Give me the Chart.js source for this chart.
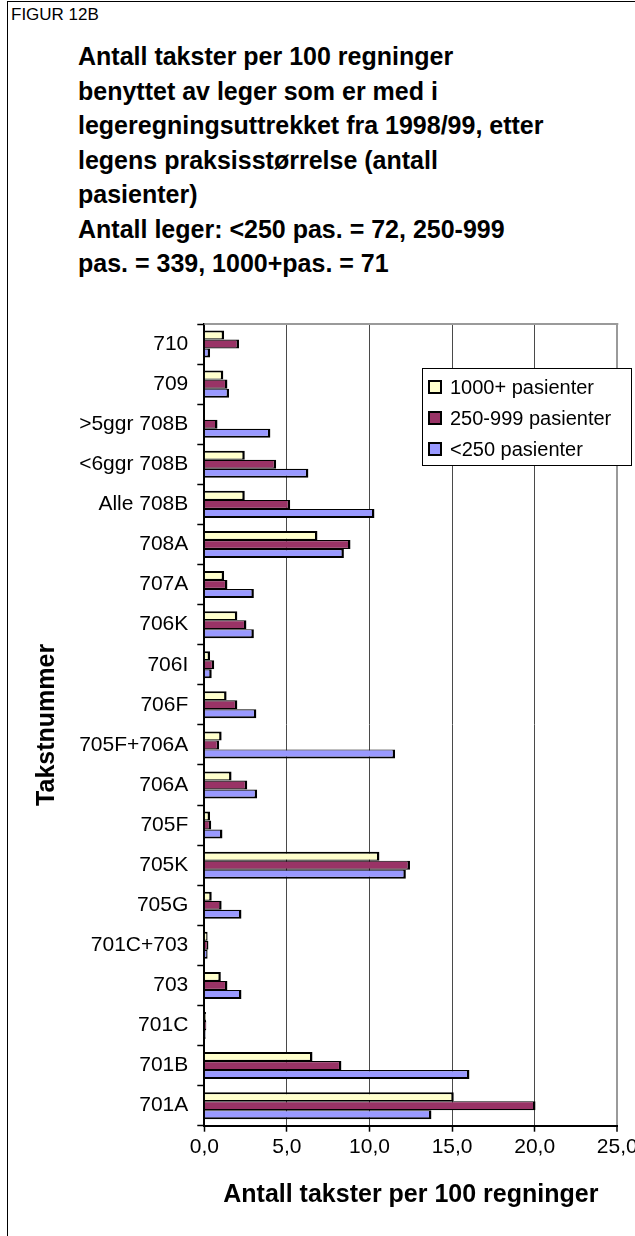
<!DOCTYPE html>
<html>
<head>
<meta charset="utf-8">
<script src="https://cdn.jsdelivr.net/npm/chart.js@4/dist/chart.umd.min.js"></script>
<style>
  html, body { margin: 0; padding: 0; background: #fff; width: 635px; height: 1236px; overflow: hidden; }
  #frame { position: absolute; left: 7px; top: 1px; width: 700px; height: 1300px;
           border-left: 1px solid #000; border-top: 1px solid #000; }
  #fig { position: absolute; left: 11px; top: 5px; font: 17px "Liberation Sans", Arial, sans-serif; color: #000; }
  #title { position: absolute; left: 78px; top: 39px; font: bold 25px/34.5px "Liberation Sans", Arial, sans-serif;
           color: #000; white-space: nowrap; }
  #chart { position: absolute; left: 0; top: 0; }
</style>
</head>
<body>
<div id="frame"></div>
<div id="fig">FIGUR 12B</div>
<div id="title">Antall takster per 100 regninger<br>benyttet av leger som er med i<br>legeregningsuttrekket fra 1998/99, etter<br>legens praksisstørrelse (antall<br>pasienter)<br>Antall leger: &lt;250 pas. = 72, 250-999<br>pas. = 339, 1000+pas. = 71</div>
<canvas id="chart" width="680" height="1236"></canvas>
<script>
// Fee codes, listed top to bottom
const categories = ['710', '709', '>5ggr 708B', '<6ggr 708B', 'Alle 708B', '708A', '707A', '706K', '706I',
  '706F', '705F+706A', '706A', '705F', '705K', '705G', '701C+703', '703', '701C', '701B', '701A'];

const seriesLabels = ['1000+ pasienter', '250-999 pasienter', '<250 pasienter'];

// Fees per 100 bills, by practice size
const practice1000plus = [1.2, 1.15, 0, 2.45, 2.45, 6.85, 1.2, 2.0, 0.35, 1.35, 1.05, 1.65, 0.35, 10.6, 0.45, 0.2, 1.0, 0.1, 6.55, 15.1];
const practice250to999 = [2.1, 1.4, 0.8, 4.35, 5.2, 8.85, 1.4, 2.55, 0.6, 2.0, 0.9, 2.6, 0.42, 12.45, 1.05, 0.25, 1.4, 0.12, 8.3, 20.05];
const practiceUnder250 = [0.35, 1.5, 4.0, 6.3, 10.3, 8.45, 3.0, 3.0, 0.45, 3.15, 11.55, 3.2, 1.1, 12.2, 2.25, 0.2, 2.25, 0.08, 16.05, 13.75];

const xTickValues = [0, 5, 10, 15, 20, 25];

const FONT = '"Liberation Sans", Arial, sans-serif';
const fmt = v => Number(v).toFixed(1).replace('.', ',');

// Legend drawn as a framed box inside the plot area
const boxLegend = {
  id: 'boxLegend',
  afterDraw(chart, args, o) {
    const ctx = chart.ctx;
    ctx.save();
    ctx.fillStyle = '#fff';
    ctx.fillRect(o.x, o.y, o.w, o.h);
    ctx.strokeStyle = '#000';
    ctx.lineWidth = 1;
    ctx.strokeRect(o.x + 0.5, o.y + 0.5, o.w, o.h);
    ctx.font = o.fontSize + 'px ' + FONT;
    ctx.textBaseline = 'middle';
    ctx.textAlign = 'left';
    chart.data.datasets.forEach((ds, i) => {
      const cy = o.y + o.first + i * o.gap;
      ctx.fillStyle = ds.backgroundColor;
      ctx.fillRect(o.x + o.swatchX, cy - o.swatch / 2, o.swatch, o.swatch);
      ctx.lineWidth = 2;
      ctx.strokeStyle = '#000';
      ctx.strokeRect(o.x + o.swatchX, cy - o.swatch / 2, o.swatch, o.swatch);
      ctx.fillStyle = '#000';
      ctx.fillText(ds.label, o.x + o.textX, cy + 1);
    });
    ctx.restore();
  }
};

// Grey frame along the top edge of the plot area
const plotFrame = {
  id: 'plotFrame',
  beforeDatasetsDraw(chart) {
    const { ctx, chartArea: a } = chart;
    ctx.save();
    ctx.strokeStyle = '#9a9a9a';
    ctx.lineWidth = 2;
    ctx.beginPath();
    ctx.moveTo(a.left, a.top);
    ctx.lineTo(a.right + 1, a.top);
    ctx.stroke();
    ctx.restore();
  }
};

const PLOT_LEFT = 204.3, PLOT_TOP = 324, PLOT_RIGHT = 617.3, PLOT_BOTTOM = 1125.7;
const CANVAS_W = 680, CANVAS_H = 1236;

new Chart(document.getElementById('chart'), {
  type: 'bar',
  data: {
    labels: categories,
    datasets: [
      { label: seriesLabels[0], data: practice1000plus, backgroundColor: '#FFFFCC',
        borderColor: '#000', borderWidth: { top: 2, bottom: 1.2, right: 2.5, left: 1 } },
      { label: seriesLabels[1], data: practice250to999, backgroundColor: '#993366',
        borderColor: '#000', borderWidth: { top: 1.2, bottom: 1.2, right: 2.5, left: 1 } },
      { label: seriesLabels[2], data: practiceUnder250, backgroundColor: '#9999FF',
        borderColor: '#000', borderWidth: { top: 1.2, bottom: 2, right: 2.5, left: 1 } }
    ]
  },
  options: {
    indexAxis: 'y',
    responsive: false,
    animation: false,
    devicePixelRatio: 1,
    categoryPercentage: 0.674,
    barPercentage: 1,
    layout: { padding: { left: 0, top: PLOT_TOP, right: CANVAS_W - PLOT_RIGHT, bottom: 0 } },
    plugins: {
      legend: { display: false },
      tooltip: { enabled: false },
      title: { display: false },
      boxLegend: { x: 422, y: 368, w: 209, h: 97, first: 19, gap: 31, swatch: 12, swatchX: 7, textX: 28, fontSize: 20 }
    },
    scales: {
      x: {
        type: 'linear',
        position: 'bottom',
        min: 0,
        max: 25,
        afterBuildTicks: s => { s.ticks = xTickValues.map(v => ({ value: v })); },
        afterFit: s => { s.height = CANVAS_H - PLOT_BOTTOM; },
        ticks: { callback: v => fmt(v), color: '#000', font: { family: FONT, size: 21 }, padding: 3, maxRotation: 0 },
        grid: {
          drawOnChartArea: true,
          color: c => c.tick && c.tick.value === 0 ? 'rgba(0,0,0,0)' : (c.tick && c.tick.value === 25 ? '#9a9a9a' : '#4a4a4a'),
          lineWidth: c => c.tick && c.tick.value === 25 ? 2 : 1,
          tickColor: '#000',
          tickLength: 6,
          tickWidth: 1.5
        },
        border: { display: true, color: '#000', width: 2 },
        title: { display: true, text: 'Antall takster per 100 regninger', color: '#000',
                 font: { family: FONT, size: 25, weight: 'bold' }, padding: { top: 0, bottom: 26 } }
      },
      y: {
        type: 'category',
        afterFit: s => { s.width = PLOT_LEFT; },
        ticks: { color: '#000', font: { family: FONT, size: 21 }, padding: 9, autoSkip: false },
        grid: { drawOnChartArea: false, color: '#000', tickLength: 7, tickWidth: 1.5, offset: true },
        border: { display: true, color: '#000', width: 2 },
        title: { display: true, text: 'Takstnummer', color: '#000',
                 font: { family: FONT, size: 25, weight: 'bold' }, padding: { top: 32, bottom: 0 } }
      }
    }
  },
  plugins: [plotFrame, boxLegend]
});
</script>
</body>
</html>
